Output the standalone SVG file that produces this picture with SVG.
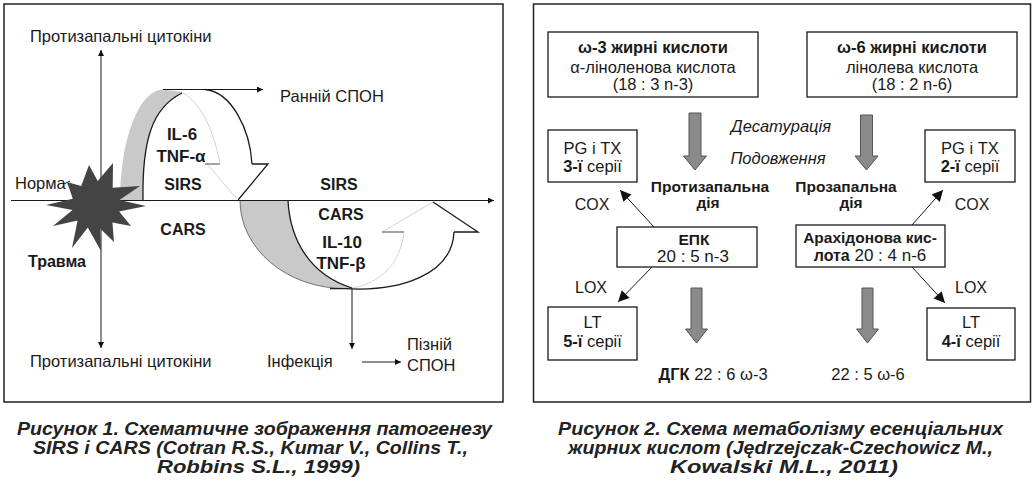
<svg xmlns="http://www.w3.org/2000/svg" width="1035" height="483" viewBox="0 0 1035 483">
<defs>
<marker id="ah" viewBox="0 0 10 10" refX="10" refY="5" markerWidth="9" markerHeight="6" markerUnits="userSpaceOnUse" orient="auto"><path d="M0,0 L10,5 L0,10 Z" fill="#111"/></marker>
<marker id="ahb" viewBox="0 0 10 10" refX="10" refY="5" markerWidth="15" markerHeight="11" markerUnits="userSpaceOnUse" orient="auto"><path d="M0,0 L10,5 L0,10 Z" fill="#111"/></marker>
<style>
.t{font-family:"Liberation Sans",Arial,sans-serif;fill:#1a1a1a}
.r{font-size:16.5px}
.s{font-size:16px}
.h{font-size:15.5px;font-weight:bold}
.n{font-size:17px}
.b{font-size:16px;font-weight:bold}
.b2{font-size:17px;font-weight:bold}
.bb{font-weight:bold}
.i{font-style:italic}
.m{text-anchor:middle}
.box{fill:#fff;stroke:#1a1a1a;stroke-width:1.3}
.frame{fill:none;stroke:#222;stroke-width:1.5}
.ln{stroke:#1a1a1a;stroke-width:1;fill:none}
.ol{stroke:#1a1a1a;stroke-width:1.3;fill:none}
.faint{stroke:#c8c8c8;stroke-width:0.8;fill:none}
.dash{stroke:#666;stroke-width:1.2;fill:none}
.band{fill:#c9c9c9;stroke:none}
.cap{font-family:"Liberation Sans",Arial,sans-serif;font-size:19px;font-weight:bold;font-style:italic;fill:#222}
.garr{fill:#8a8a8a;stroke:#555;stroke-width:1}
</style>
</defs>
<rect x="0" y="0" width="1035" height="483" fill="#fff"/>

<!-- frames -->
<rect class="frame" x="4" y="4" width="499" height="398"/>
<rect class="frame" x="533.5" y="4" width="497" height="398"/>

<!-- ===== Figure 1 ===== -->
<g id="upper-arrow">
  <path class="band" d="M120,200.5 A43,111 0 0 1 163,89.5 L183,92 C152,108 142,140 143,200.5 Z"/>
  <path class="ol" d="M143,200.5 C142,140 152,108 182,93"/>
  <path class="ol" d="M205,89.5 C232,92 250,130 252,164"/>
  <path class="ol" d="M252,164 L268,164 L238,200"/>
  <path class="faint" d="M238,200 L207,164"/>
  <path class="dash" d="M205,164 L220,164"/>
  <path class="faint" d="M220,164 C214,130 200,102 183,93"/>
</g>
<g id="lower-arrow">
  <path class="band" d="M240,200.5 A105,88 0 0 0 345,288.5 L352,288 C310,275 290,240 288,200.5 Z"/>
  <path d="M240,200.5 A105,88 0 0 0 345,288.5" fill="none" stroke="#555" stroke-width="0.8"/>
  <path class="ol" d="M288,200.5 C290,240 310,275 352,288"/>
  <path class="ol" d="M330,288.7 L345,288.6 C400,292 452,275 454,232"/>
  <path class="ol" d="M454,232 L478,232 L433,202"/>
  <path class="faint" d="M433,202 L382,232"/>
  <path class="dash" d="M382,232 L404,232"/>
  <path class="faint" d="M404,232 C400,265 380,283 352,288"/>
</g>

<g id="connectors">
  <line class="ln" x1="101" y1="200" x2="101" y2="50" marker-end="url(#ah)"/>
  <line class="ln" x1="101" y1="200" x2="101" y2="348" marker-end="url(#ah)"/>
  <line class="ln" x1="11" y1="200.5" x2="494" y2="200.5" marker-end="url(#ah)"/>
  <line class="ln" x1="163" y1="89.5" x2="263" y2="89.5" marker-end="url(#ah)"/>
  <line class="ln" x1="352" y1="288" x2="352" y2="349" marker-end="url(#ah)"/>
  <line class="ln" x1="362" y1="362" x2="401" y2="362" marker-end="url(#ah)"/>
  <line class="ln" x1="64" y1="184" x2="70" y2="181"/>
  <!-- figure 2 connectors -->
  <line class="ln" x1="654" y1="227" x2="620" y2="190" marker-end="url(#ahb)"/>
  <line class="ln" x1="652" y1="267" x2="618" y2="302" marker-end="url(#ahb)"/>
  <line class="ln" x1="912" y1="225" x2="943" y2="190" marker-end="url(#ahb)"/>
  <line class="ln" x1="912" y1="267" x2="945" y2="303" marker-end="url(#ahb)"/>
  <path class="garr" d="M689,113 L701,113 L701,156 L706.5,156 L695,170 L683.5,156 L689,156 Z"/>
  <path class="garr" d="M860.5,115 L872.5,115 L872.5,156 L878,156 L866.5,170 L855,156 L860.5,156 Z"/>
  <path class="garr" d="M691,288 L702,288 L702,329 L707.5,329 L696.5,343 L685.5,329 L691,329 Z"/>
  <path class="garr" d="M862,288 L873,288 L873,329 L878.5,329 L867.5,343 L856.5,329 L862,329 Z"/>
</g>

<g id="trauma">
  <polygon fill="#444" points="67,182 81.2,186.1 89,165 97.7,181.1 113,163 112.7,187.7 140,186 119.5,200 146,206 119.1,211.6 131,226 112.4,222.6 114,242 100.2,228.6 101,251 87.8,227.6 72,248 77.6,220.4 53,226 72.5,210 46,205 72.8,198.8"/>
  <text class="t b m" x="57" y="267">Травма</text>
</g>

<g id="labels-fig1">
  <text class="t r" x="30" y="42">Протизапальні цитокіни</text>
  <text class="t r" x="280" y="102">Ранній СПОН</text>
  <text class="t r" x="15" y="189">Норма</text>
  <text class="t b2 m" x="182" y="140">IL-6</text>
  <text class="t b2 m" x="181" y="162">TNF-α</text>
  <text class="t b m" x="183" y="190">SIRS</text>
  <text class="t b m" x="339" y="190">SIRS</text>
  <text class="t b m" x="183" y="235">CARS</text>
  <text class="t b m" x="341" y="220">CARS</text>
  <text class="t b2 m" x="342" y="248">IL-10</text>
  <text class="t b2 m" x="341" y="269">TNF-β</text>
  <text class="t r" x="30" y="367">Протизапальні цитокіни</text>
  <text class="t r" x="267" y="367">Інфекція</text>
  <text class="t r" x="407" y="350">Пізній</text>
  <text class="t r" x="407" y="371">СПОН</text>
</g>

<!-- ===== Figure 2 ===== -->
<g id="omega3">
  <rect class="box" x="548" y="32" width="210" height="65"/>
  <text class="t r m bb" x="653" y="53">ω-3 жирні кислоти</text>
  <text class="t r m" x="653" y="73">α-ліноленова кислота</text>
  <text class="t r m" x="653" y="90">(18 : 3 n-3)</text>
</g>
<g id="omega6">
  <rect class="box" x="807" y="32" width="210" height="65"/>
  <text class="t r m bb" x="912" y="53">ω-6 жирні кислоти</text>
  <text class="t r m" x="912" y="73">лінолева кислота</text>
  <text class="t r m" x="912" y="90">(18 : 2 n-6)</text>
</g>
<g id="steps">
  <text class="t r m i" x="781" y="132">Десатурація</text>
  <text class="t r m i" x="778" y="164">Подовження</text>
  <text class="t h m" x="710" y="192">Протизапальна</text>
  <text class="t h m" x="708" y="208">дія</text>
  <text class="t h m" x="846" y="192">Прозапальна</text>
  <text class="t h m" x="851" y="208">дія</text>
  <text class="t s m" x="592" y="210">COX</text>
  <text class="t s m" x="972" y="210">COX</text>
  <text class="t s m" x="591" y="293">LOX</text>
  <text class="t s m" x="971" y="293">LOX</text>
</g>
<g id="pg3">
  <rect class="box" x="548" y="130" width="89" height="52"/>
  <text class="t r m" x="592.5" y="154">PG і TX</text>
  <text class="t r m" x="592.5" y="172"><tspan class="bb">3-ї</tspan> серії</text>
</g>
<g id="pg2">
  <rect class="box" x="925" y="130" width="90" height="52"/>
  <text class="t r m" x="970" y="154">PG і TX</text>
  <text class="t r m" x="970" y="172"><tspan class="bb">2-ї</tspan> серії</text>
</g>
<g id="epa">
  <rect class="box" x="617" y="227" width="140" height="40"/>
  <text class="t h m" x="694" y="245">ЕПК</text>
  <text class="t n m" x="693" y="262">20 : 5 n-3</text>
</g>
<g id="arachidonic">
  <rect class="box" x="796" y="225" width="149" height="42"/>
  <text class="t h m" x="870" y="243" font-size="16px">Арахідонова кис-</text>
  <text class="t n m" x="870" y="261"><tspan class="bb" font-size="16px">лота</tspan> 20 : 4 n-6</text>
</g>
<g id="lt5">
  <rect class="box" x="548" y="307" width="89" height="53"/>
  <text class="t r m" x="592.5" y="328">LT</text>
  <text class="t r m" x="592.5" y="347"><tspan class="bb">5-ї</tspan> серії</text>
</g>
<g id="lt4">
  <rect class="box" x="927" y="308" width="88" height="52"/>
  <text class="t r m" x="971" y="328">LT</text>
  <text class="t r m" x="971" y="347"><tspan class="bb">4-ї</tspan> серії</text>
</g>
<g id="dha">
  <text class="t r m" x="713" y="380"><tspan class="bb">ДГК</tspan> 22 : 6 ω-3</text>
</g>
<g id="dpa">
  <text class="t r m" x="868" y="380">22 : 5 ω-6</text>
</g>

<!-- captions -->
<g id="caption1">
  <text class="cap" x="17" y="435" textLength="475" lengthAdjust="spacingAndGlyphs">Рисунок 1.  Схематичне зображення патогенезу</text>
  <text class="cap" x="33" y="454" textLength="435" lengthAdjust="spacingAndGlyphs">SIRS і CARS (Cotran R.S., Kumar V., Collins T.,</text>
  <text class="cap" x="157" y="473" textLength="203" lengthAdjust="spacingAndGlyphs">Robbins S.L., 1999)</text>
</g>
<g id="caption2">
  <text class="cap" x="558" y="435" textLength="445" lengthAdjust="spacingAndGlyphs">Рисунок 2.  Схема метаболізму есенціальних</text>
  <text class="cap" x="568" y="454" textLength="425" lengthAdjust="spacingAndGlyphs">жирних кислот (Jędrzejczak-Czechowicz M.,</text>
  <text class="cap" x="670" y="473" textLength="228" lengthAdjust="spacingAndGlyphs">Kowalski M.L., 2011)</text>
</g>
</svg>
